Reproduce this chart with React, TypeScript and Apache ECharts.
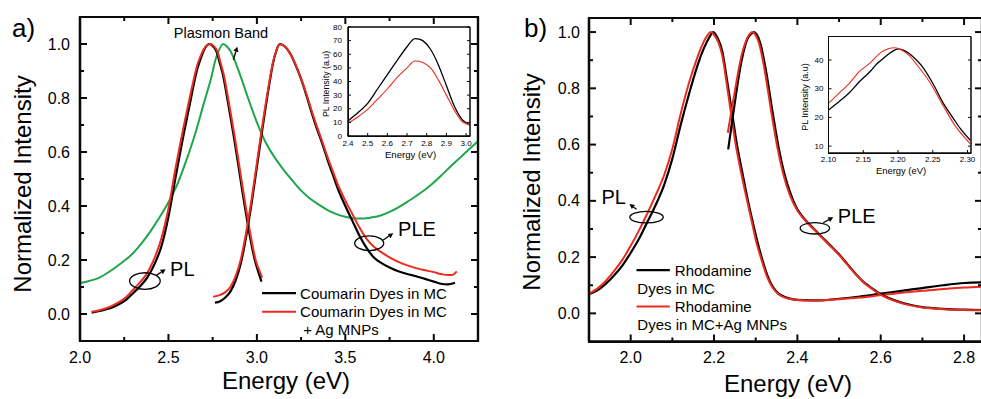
import { useEffect, useRef } from 'react';
import * as echarts from 'echarts';

// ---------------- Panel a) : Coumarin ----------------
const coumarinPLEnergyMC = [2.066, 2.12, 2.17, 2.22, 2.26, 2.30, 2.34, 2.38, 2.42, 2.46, 2.50, 2.54, 2.58, 2.62, 2.66, 2.69, 2.71, 2.73, 2.75, 2.77, 2.79, 2.81, 2.84, 2.87, 2.90, 2.93, 2.96, 2.99, 3.026];
const coumarinPL_MC = [0.005, 0.012, 0.021, 0.036, 0.052, 0.077, 0.103, 0.135, 0.183, 0.25, 0.36, 0.505, 0.645, 0.775, 0.9, 0.96, 0.988, 1.0, 0.993, 0.975, 0.93, 0.88, 0.77, 0.655, 0.53, 0.405, 0.29, 0.195, 0.12];
const coumarinPLEnergyAg = [2.066, 2.12, 2.17, 2.22, 2.26, 2.30, 2.34, 2.38, 2.42, 2.46, 2.50, 2.54, 2.58, 2.62, 2.66, 2.69, 2.71, 2.735, 2.755, 2.775, 2.795, 2.815, 2.845, 2.875, 2.905, 2.935, 2.965, 2.995, 3.03];
const coumarinPL_Ag = [0.008, 0.016, 0.027, 0.044, 0.062, 0.09, 0.118, 0.152, 0.205, 0.28, 0.39, 0.54, 0.675, 0.8, 0.915, 0.968, 0.99, 1.0, 0.993, 0.975, 0.93, 0.88, 0.77, 0.655, 0.53, 0.405, 0.29, 0.195, 0.135];

const coumarinPLEEnergyMC = [2.763, 2.79, 2.82, 2.85, 2.88, 2.91, 2.94, 2.97, 3.00, 3.03, 3.06, 3.09, 3.11, 3.13, 3.16, 3.19, 3.22, 3.25, 3.28, 3.31, 3.34, 3.37, 3.40, 3.43, 3.46, 3.50, 3.54, 3.58, 3.62, 3.66, 3.70, 3.75, 3.80, 3.85, 3.90, 3.95, 4.00, 4.04, 4.08, 4.12];
const coumarinPLE_MC = [0.042, 0.046, 0.06, 0.083, 0.125, 0.19, 0.29, 0.41, 0.545, 0.68, 0.81, 0.925, 0.975, 1.0, 0.99, 0.963, 0.92, 0.87, 0.81, 0.745, 0.685, 0.63, 0.57, 0.515, 0.46, 0.40, 0.345, 0.29, 0.245, 0.21, 0.19, 0.172, 0.158, 0.148, 0.14, 0.13, 0.12, 0.112, 0.11, 0.116];
const coumarinPLEEnergyAg = [2.753, 2.79, 2.82, 2.85, 2.88, 2.91, 2.94, 2.97, 3.00, 3.03, 3.06, 3.09, 3.11, 3.13, 3.16, 3.19, 3.22, 3.25, 3.28, 3.31, 3.34, 3.37, 3.40, 3.43, 3.46, 3.50, 3.54, 3.58, 3.62, 3.66, 3.70, 3.75, 3.80, 3.85, 3.90, 3.95, 4.00, 4.04, 4.08, 4.11, 4.13];
const coumarinPLE_Ag = [0.064, 0.07, 0.08, 0.1, 0.14, 0.205, 0.305, 0.425, 0.56, 0.695, 0.82, 0.93, 0.975, 0.998, 0.99, 0.963, 0.922, 0.873, 0.815, 0.752, 0.693, 0.638, 0.58, 0.527, 0.475, 0.42, 0.37, 0.32, 0.278, 0.25, 0.23, 0.21, 0.193, 0.18, 0.17, 0.162, 0.155, 0.148, 0.144, 0.146, 0.158];

const plasmonEnergy = [2.0, 2.05, 2.1, 2.15, 2.2, 2.25, 2.3, 2.35, 2.4, 2.45, 2.5, 2.55, 2.6, 2.65, 2.7, 2.74, 2.77, 2.81, 2.85, 2.9, 2.95, 3.0, 3.05, 3.1, 3.15, 3.2, 3.25, 3.3, 3.35, 3.4, 3.45, 3.5, 3.55, 3.6, 3.65, 3.7, 3.75, 3.8, 3.85, 3.9, 3.95, 4.0, 4.05, 4.1, 4.15, 4.2, 4.25];
const plasmonBand = [0.114, 0.122, 0.132, 0.15, 0.172, 0.197, 0.225, 0.263, 0.308, 0.358, 0.414, 0.48, 0.567, 0.665, 0.78, 0.87, 0.95, 1.0, 0.975, 0.895, 0.8, 0.71, 0.635, 0.58, 0.535, 0.495, 0.457, 0.428, 0.405, 0.385, 0.37, 0.36, 0.354, 0.354, 0.358, 0.365, 0.378, 0.395, 0.415, 0.437, 0.46, 0.487, 0.518, 0.55, 0.58, 0.61, 0.64];

// inset a)
const insetAEnergy = [2.4, 2.45, 2.5, 2.55, 2.6, 2.65, 2.7, 2.74, 2.78, 2.82, 2.86, 2.9, 2.94, 2.98, 3.02];
const insetA_MC = [11, 17, 24, 34.5, 45, 55.5, 65.5, 71.5, 70, 63.5, 52, 37, 22, 12, 8];
const insetA_Ag = [9.5, 14, 19.5, 27, 34.5, 43, 50, 55, 54, 50, 41, 30, 19, 10.5, 8];

// ---------------- Panel b) : Rhodamine ----------------
const rhodPLEnergyMC = [1.9, 1.92, 1.94, 1.96, 1.98, 2.0, 2.02, 2.04, 2.06, 2.08, 2.1, 2.12, 2.14, 2.16, 2.175, 2.19, 2.198, 2.21, 2.22, 2.23, 2.242, 2.255, 2.268, 2.28, 2.292, 2.305, 2.316, 2.328, 2.34, 2.355, 2.37, 2.39, 2.42, 2.45, 2.5, 2.55, 2.6, 2.65, 2.7, 2.75, 2.8, 2.843];
const rhodPL_MC = [0.068, 0.082, 0.105, 0.135, 0.17, 0.215, 0.265, 0.325, 0.385, 0.455, 0.55, 0.67, 0.78, 0.88, 0.94, 0.985, 1.0, 0.975, 0.93, 0.84, 0.725, 0.6, 0.5, 0.41, 0.33, 0.25, 0.19, 0.135, 0.097, 0.07, 0.058, 0.05, 0.047, 0.046, 0.052, 0.06, 0.07, 0.08, 0.09, 0.1, 0.108, 0.11];
const rhodPLEnergyAg = [1.9, 1.92, 1.94, 1.96, 1.98, 2.0, 2.02, 2.04, 2.06, 2.08, 2.1, 2.12, 2.14, 2.16, 2.175, 2.185, 2.192, 2.2, 2.21, 2.22, 2.23, 2.24, 2.252, 2.265, 2.278, 2.29, 2.302, 2.314, 2.326, 2.338, 2.353, 2.37, 2.39, 2.42, 2.45, 2.5, 2.55, 2.6, 2.65, 2.7, 2.75, 2.8, 2.843];
const rhodPL_Ag = [0.07, 0.088, 0.115, 0.15, 0.19, 0.24, 0.295, 0.355, 0.42, 0.49, 0.585, 0.71, 0.82, 0.91, 0.965, 0.99, 1.0, 0.99, 0.965, 0.915, 0.82, 0.72, 0.6, 0.5, 0.41, 0.33, 0.25, 0.19, 0.135, 0.097, 0.07, 0.056, 0.049, 0.046, 0.046, 0.05, 0.056, 0.065, 0.073, 0.08, 0.087, 0.092, 0.095];

const rhodPLEEnergyMC = [2.234, 2.25, 2.265, 2.28, 2.296, 2.31, 2.325, 2.34, 2.355, 2.37, 2.385, 2.40, 2.42, 2.44, 2.46, 2.48, 2.50, 2.52, 2.54, 2.56, 2.58, 2.60, 2.63, 2.66, 2.70, 2.75, 2.80, 2.843];
const rhodPLE_MC = [0.583, 0.75, 0.89, 0.975, 1.0, 0.965, 0.86, 0.72, 0.59, 0.49, 0.42, 0.37, 0.33, 0.30, 0.27, 0.24, 0.21, 0.175, 0.14, 0.11, 0.088, 0.068, 0.048, 0.034, 0.022, 0.016, 0.013, 0.012];
const rhodPLEEnergyAg = [2.233, 2.25, 2.265, 2.28, 2.292, 2.307, 2.322, 2.337, 2.352, 2.367, 2.382, 2.40, 2.42, 2.44, 2.46, 2.48, 2.50, 2.52, 2.54, 2.56, 2.58, 2.60, 2.63, 2.66, 2.70, 2.75, 2.80, 2.843];
const rhodPLE_Ag = [0.642, 0.79, 0.91, 0.98, 1.0, 0.965, 0.86, 0.72, 0.59, 0.49, 0.42, 0.365, 0.328, 0.298, 0.268, 0.238, 0.208, 0.173, 0.139, 0.109, 0.086, 0.066, 0.046, 0.032, 0.021, 0.015, 0.012, 0.011];

// inset b)
const insetBEnergyMC = [2.10, 2.115, 2.13, 2.145, 2.16, 2.17, 2.18, 2.19, 2.2, 2.21, 2.22, 2.235, 2.25, 2.265, 2.28, 2.29, 2.304];
const insetB_MC = [22.6, 25.5, 28.6, 32.6, 36, 38.8, 40.8, 42.7, 43.9, 43.2, 41.5, 37.7, 31.9, 25, 19.5, 16, 12];
const insetBEnergyAg = [2.10, 2.115, 2.13, 2.145, 2.16, 2.175, 2.187, 2.195, 2.205, 2.215, 2.225, 2.245, 2.265, 2.283, 2.304];
const insetB_Ag = [24.9, 28.4, 31.9, 36.1, 39, 42.6, 44, 44.3, 43.5, 41.8, 39, 32.5, 24.1, 16.8, 10.8];

// ---------------- Tick values ----------------
const intensityTicks = [0, 0.2, 0.4, 0.6, 0.8, 1.0];
const intensityMinor = [0.1, 0.3, 0.5, 0.7, 0.9];
const energyTicksA = [2.0, 2.5, 3.0, 3.5, 4.0];
const energyMinorA = [2.25, 2.75, 3.25, 3.75];
const energyTicksB = [2.0, 2.2, 2.4, 2.6, 2.8];
const energyMinorB = [2.1, 2.3, 2.5, 2.7];
const insetAEnergyTicks = [2.4, 2.5, 2.6, 2.7, 2.8, 2.9, 3.0];
const insetAIntensityTicks = [0, 10, 20, 30, 40, 50, 60, 70, 80];
const insetBEnergyTicks = [2.10, 2.15, 2.20, 2.25, 2.30];
const insetBIntensityTicks = [10, 20, 30, 40];

// ---------------- Styles ----------------
const INK = '#000000';
const FRAME = '#0a0a0a';
const RED = '#ec2b1f';
const GREEN = '#1fa64c';
const FONT = '"Liberation Sans", Arial, Helvetica, sans-serif';

const pairs = (xs: number[], ys: number[]) => xs.map((x, i) => [x, ys[i]]);
const f1 = (v: number) => v.toFixed(1);
const f2 = (v: number) => v.toFixed(2);
const f0 = (v: number) => String(Math.round(v));

type PanelSpec = {
  xMin: number; xMax: number; yMin: number; yMax: number;
  xMajors: number[]; xMinors: number[]; yMajors: number[]; yMinors: number[];
  xFmt: (v: number) => string; yFmt: (v: number) => string;
  fontSize: number; xMargin: number; yMargin: number;
  majorLen: number; minorLen: number; width: number; frameWidth: number; mirrorX: boolean; mirrorY: boolean;
};

const panels: PanelSpec[] = [
  { xMin: 2.0, xMax: 4.25, yMin: -0.1, yMax: 1.1, xMajors: energyTicksA, xMinors: energyMinorA, yMajors: intensityTicks, yMinors: intensityMinor, xFmt: f1, yFmt: f1, fontSize: 16, xMargin: 8, yMargin: 10, majorLen: 7, minorLen: 4, width: 2, frameWidth: 2.2, mirrorX: true, mirrorY: true },
  { xMin: 1.9, xMax: 2.843, yMin: -0.1, yMax: 1.05, xMajors: energyTicksB, xMinors: energyMinorB, yMajors: intensityTicks, yMinors: intensityMinor, xFmt: f1, yFmt: f1, fontSize: 16, xMargin: 8, yMargin: 9, majorLen: 7, minorLen: 4, width: 2, frameWidth: 2.2, mirrorX: true, mirrorY: true },
  { xMin: 2.4, xMax: 3.02, yMin: 0, yMax: 80, xMajors: insetAEnergyTicks, xMinors: [], yMajors: insetAIntensityTicks, yMinors: [], xFmt: f1, yFmt: f0, fontSize: 8, xMargin: 3, yMargin: 6, majorLen: 3, minorLen: 2, width: 1, frameWidth: 1, mirrorX: false, mirrorY: true },
  { xMin: 2.1, xMax: 2.305, yMin: 7.6, yMax: 48.2, xMajors: insetBEnergyTicks, xMinors: [], yMajors: insetBIntensityTicks, yMinors: [], xFmt: f2, yFmt: f0, fontSize: 8, xMargin: 2, yMargin: 5, majorLen: 3, minorLen: 2, width: 1, frameWidth: 1, mirrorX: false, mirrorY: true },
];

const gridBoxes = [
  { left: 80, top: 17, width: 398, height: 324 },
  { left: 589, top: 18, width: 393, height: 323.5 },
  { left: 348, top: 27, width: 122, height: 109 },
  { left: 828.5, top: 36.5, width: 142.5, height: 116.5 },
];

export default function App() {
  const ref = useRef<HTMLDivElement>(null);

  useEffect(() => {
    if (!ref.current) return;
    const chart = echarts.init(ref.current, undefined, { renderer: 'svg' });

    const grids = gridBoxes.map((b, i) => ({
      ...b, show: true,
      backgroundColor: i >= 2 ? '#ffffff' : 'rgba(0,0,0,0)',
      borderColor: FRAME, borderWidth: panels[i].frameWidth,
    }));

    const axisCommon = (i: number) => ({
      type: 'value', gridIndex: i, splitLine: { show: false }, splitArea: { show: false },
      axisTick: { show: false }, axisPointer: { show: false },
    });
    const xAxes = panels.map((p, i) => ({
      ...axisCommon(i), position: 'bottom', min: p.xMin, max: p.xMax,
      axisLine: { show: true, onZero: false, lineStyle: { color: FRAME, width: p.frameWidth } },
      axisLabel: { show: true, customValues: p.xMajors, formatter: p.xFmt, fontSize: p.fontSize, fontFamily: FONT, color: INK, margin: p.xMargin, showMinLabel: true, showMaxLabel: true },
    }));
    const yAxes = panels.map((p, i) => ({
      ...axisCommon(i), position: 'left', min: p.yMin, max: p.yMax,
      axisLine: { show: true, onZero: false, lineStyle: { color: FRAME, width: p.frameWidth } },
      axisLabel: { show: true, customValues: p.yMajors, formatter: p.yFmt, fontSize: p.fontSize, fontFamily: FONT, color: INK, margin: p.yMargin, showMinLabel: true, showMaxLabel: true },
    }));

    const line = (gi: number, xs: number[], ys: number[], color: string, width: number, name: string) => ({
      type: 'line', name, xAxisIndex: gi, yAxisIndex: gi, data: pairs(xs, ys),
      showSymbol: false, symbol: 'none', smooth: 0.3, silent: true, clip: true,
      lineStyle: { color, width }, z: 3,
    });

    // plot frames traced along each axis extent (not data)
    const frames = panels.map((p, i) => ({
      type: 'line', name: 'frame' + i, xAxisIndex: i, yAxisIndex: i,
      data: [[p.xMin, p.yMin], [p.xMax, p.yMin], [p.xMax, p.yMax], [p.xMin, p.yMax], [p.xMin, p.yMin]],
      showSymbol: false, symbol: 'none', smooth: false, silent: true, clip: false,
      lineStyle: { color: FRAME, width: p.frameWidth }, z: 4,
    }));

    chart.setOption({
      animation: false,
      grid: grids,
      xAxis: xAxes,
      yAxis: yAxes,
      series: [
        line(0, plasmonEnergy, plasmonBand, GREEN, 2, 'Plasmon Band'),
        line(0, coumarinPLEnergyMC, coumarinPL_MC, INK, 2.2, 'Coumarin Dyes in MC PL'),
        line(0, coumarinPLEnergyAg, coumarinPL_Ag, RED, 2, 'Coumarin Dyes in MC + Ag MNPs PL'),
        line(0, coumarinPLEEnergyMC, coumarinPLE_MC, INK, 2.2, 'Coumarin Dyes in MC PLE'),
        line(0, coumarinPLEEnergyAg, coumarinPLE_Ag, RED, 2, 'Coumarin Dyes in MC + Ag MNPs PLE'),
        line(1, rhodPLEnergyMC, rhodPL_MC, INK, 2.2, 'Rhodamine Dyes in MC PL'),
        line(1, rhodPLEnergyAg, rhodPL_Ag, RED, 2, 'Rhodamine Dyes in MC+Ag MNPs PL'),
        line(1, rhodPLEEnergyMC, rhodPLE_MC, INK, 2.2, 'Rhodamine Dyes in MC PLE'),
        line(1, rhodPLEEnergyAg, rhodPLE_Ag, RED, 2, 'Rhodamine Dyes in MC+Ag MNPs PLE'),
        line(2, insetAEnergy, insetA_MC, INK, 1.3, 'inset a MC'),
        line(2, insetAEnergy, insetA_Ag, RED, 1.1, 'inset a Ag'),
        line(3, insetBEnergyMC, insetB_MC, INK, 1.3, 'inset b MC'),
        line(3, insetBEnergyAg, insetB_Ag, RED, 1.1, 'inset b Ag'),
        ...frames,
      ],
    });

    const P = (g: number, p: number[]) => chart.convertToPixel({ gridIndex: g } as any, p) as number[];
    const txt = (p: number[], text: string, size: number, align = 'left', rotation = 0) => ({
      type: 'text', x: p[0], y: p[1], rotation, z: 100, silent: true,
      style: { text, fontSize: size, fontFamily: FONT, fill: INK, align, verticalAlign: 'middle' },
    });
    const ell = (c: number[], rx: number, ry: number) => ({
      type: 'ellipse', z: 100, silent: true, shape: { cx: c[0], cy: c[1], rx, ry },
      style: { fill: 'none', stroke: INK, lineWidth: 1.3 },
    });
    const seg = (a: number[], b: number[], color: string, w: number) => ({
      type: 'line', z: 100, silent: true, shape: { x1: a[0], y1: a[1], x2: b[0], y2: b[1] },
      style: { stroke: color, lineWidth: w },
    });
    const arrow = (a: number[], b: number[]) => {
      const dx = b[0] - a[0], dy = b[1] - a[1];
      const L = Math.hypot(dx, dy) || 1;
      const ux = dx / L, uy = dy / L, nx = -uy, ny = ux;
      const hl = 5, hw = 2.6;
      const base = [b[0] - ux * hl, b[1] - uy * hl];
      return [
        seg(a, base, INK, 1.3),
        {
          type: 'polygon', z: 100, silent: true,
          shape: { points: [[b[0], b[1]], [base[0] + nx * hw, base[1] + ny * hw], [base[0] - nx * hw, base[1] - ny * hw]] },
          style: { fill: INK },
        },
      ];
    };

    const g: any[] = [];

    // panel letters and axis titles
    g.push(txt([12, 27.5], 'a)', 26));
    g.push(txt([524, 28], 'b)', 26));
    g.push(txt([22, 184], 'Normalized Intensity', 24, 'center', Math.PI / 2));
    g.push(txt([286, 380], 'Energy (eV)', 24, 'center'));
    g.push(txt([531.5, 182], 'Normalized Intensity', 24, 'center', Math.PI / 2));
    g.push(txt([788, 383], 'Energy (eV)', 24, 'center'));
    // inset titles
    g.push(txt([325.5, 84], 'PL Intensity (a.u)', 8.8, 'center', Math.PI / 2));
    g.push(txt([410.5, 154.5], 'Energy (eV)', 9.6, 'center'));
    g.push(txt([805, 97], 'PL Intensity (a.u)', 9, 'center', Math.PI / 2));
    g.push(txt([901, 170.5], 'Energy (eV)', 9.4, 'center'));

    // panel a annotations
    g.push(txt(P(0, [2.797, 1.04]), 'Plasmon Band', 14.5, 'center'));
    g.push(...arrow(P(0, [2.867, 0.941]), P(0, [2.889, 0.99])));
    g.push(ell(P(0, [2.367, 0.122]), 15.3, 8.3));
    g.push(...arrow(P(0, [2.434, 0.144]), P(0, [2.484, 0.166])));
    g.push(txt(P(0, [2.509, 0.166]), 'PL', 20));
    g.push(ell(P(0, [3.635, 0.262]), 14.5, 7.3));
    g.push(...arrow(P(0, [3.714, 0.274]), P(0, [3.771, 0.299])));
    g.push(txt(P(0, [3.798, 0.314]), 'PLE', 20));
    // panel a legend
    g.push(seg(P(0, [3.029, 0.077]), P(0, [3.221, 0.077]), INK, 2.2));
    g.push(txt(P(0, [3.244, 0.077]), 'Coumarin Dyes in MC', 15));
    g.push(seg(P(0, [3.029, 0.0085]), P(0, [3.221, 0.0085]), RED, 2));
    g.push(txt(P(0, [3.244, 0.0085]), 'Coumarin Dyes in MC', 15));
    g.push(txt(P(0, [3.262, -0.059]), '+ Ag MNPs', 15));

    // panel b annotations
    g.push(txt(P(1, [1.93, 0.415]), 'PL', 20));
    g.push(...arrow(P(1, [2.014, 0.37]), P(1, [1.997, 0.389])));
    g.push(ell(P(1, [2.038, 0.342]), 16.7, 5.8));
    g.push(txt(P(1, [2.497, 0.346]), 'PLE', 20));
    g.push(ell(P(1, [2.442, 0.3025]), 14.7, 5.7));
    g.push(...arrow(P(1, [2.462, 0.322]), P(1, [2.486, 0.342])));
    // panel b legend
    g.push(seg(P(1, [2.014, 0.154]), P(1, [2.094, 0.154]), INK, 2.2));
    g.push(txt(P(1, [2.106, 0.154]), 'Rhodamine', 15));
    g.push(txt(P(1, [2.016, 0.089]), 'Dyes in MC', 15));
    g.push(seg(P(1, [2.014, 0.024]), P(1, [2.094, 0.024]), RED, 2));
    g.push(txt(P(1, [2.106, 0.024]), 'Rhodamine', 15));
    g.push(txt(P(1, [2.016, -0.041]), 'Dyes in MC+Ag MNPs', 15));

    // inward ticks on all frame sides, placed through the axes' scales
    panels.forEach((p, i) => {
      const tl = P(i, [p.xMin, p.yMax]);
      const br = P(i, [p.xMax, p.yMin]);
      const left = tl[0], top = tl[1], right = br[0], bottom = br[1];
      const xt = (vals: number[], len: number) => vals.forEach((v) => {
        const x = P(i, [v, p.yMin])[0];
        g.push(seg([x, bottom], [x, bottom - len], FRAME, p.width));
        if (p.mirrorX) g.push(seg([x, top], [x, top + len], FRAME, p.width));
      });
      const yt = (vals: number[], len: number) => vals.forEach((v) => {
        const y = P(i, [p.xMin, v])[1];
        g.push(seg([left, y], [left + len, y], FRAME, p.width));
        if (p.mirrorY) g.push(seg([right, y], [right - len, y], FRAME, p.width));
      });
      xt(p.xMajors, p.majorLen);
      xt(p.xMinors, p.minorLen);
      yt(p.yMajors, p.majorLen);
      yt(p.yMinors, p.minorLen);
    });

    chart.setOption({ graphic: g });

    return () => chart.dispose();
  }, []);

  return (
    <div
      ref={ref}
      style={{ position: 'fixed', left: 0, top: 0, width: 990, height: 399, background: '#fff' }}
    />
  );
}
